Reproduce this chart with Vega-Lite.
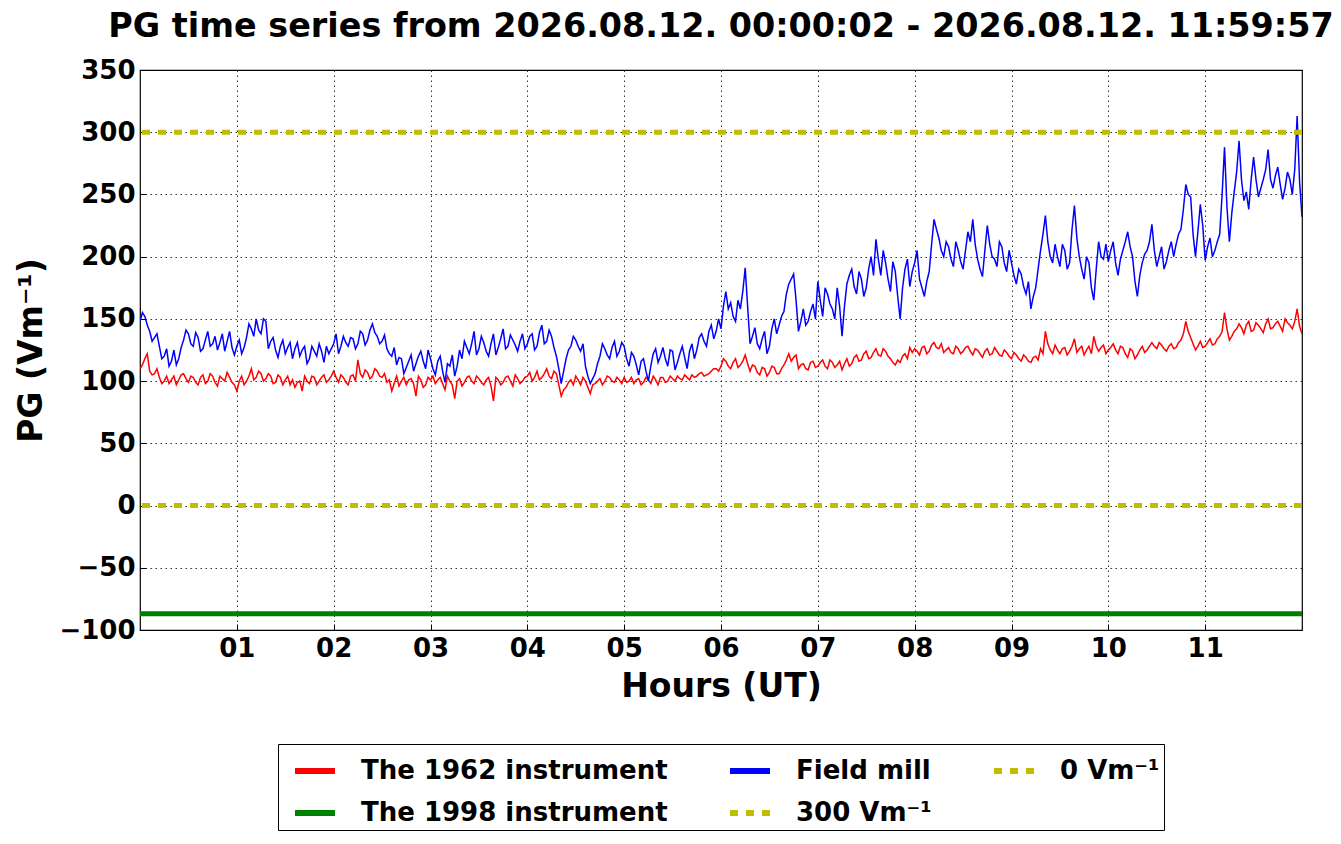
{
  "$schema": "https://vega.github.io/schema/vega-lite/v6.json",
  "width": 1162,
  "height": 560,
  "autosize": {"type": "none"},
  "padding": {"left": 140, "top": 70, "right": 39, "bottom": 214},
  "background": "white",
  "title": {
    "text": "PG time series from 2026.08.12. 00:00:02 - 2026.08.12. 11:59:57",
    "font": "DejaVu Sans",
    "fontSize": 33.4,
    "fontWeight": "bold",
    "color": "black",
    "anchor": "middle",
    "offset": 13
  },
  "config": {
    "view": {"stroke": "black", "strokeWidth": 1.2},
    "axis": {
      "domain": false,
      "labelFont": "DejaVu Sans",
      "labelFontSize": 26,
      "labelFontWeight": "bold",
      "labelColor": "black",
      "titleFont": "DejaVu Sans",
      "titleFontSize": 33,
      "titleFontWeight": "bold",
      "titleColor": "black",
      "grid": true,
      "gridColor": "black",
      "gridDash": [1.5, 3.5],
      "gridWidth": 0.8,
      "gridOpacity": 1,
      "tickColor": "black",
      "tickSize": -6,
      "tickWidth": 1
    }
  },
  "datasets": {
    "pg": [
      {"t": 0.00, "r": 110, "f": 148}, {"t": 0.05, "r": 118, "f": 152}, {"t": 0.10, "r": 108, "f": 140}, {"t": 0.15, "r": 106, "f": 135},
      {"t": 0.20, "r": 103, "f": 128}, {"t": 0.25, "r": 100, "f": 120}, {"t": 0.30, "r": 98, "f": 112}, {"t": 0.35, "r": 104, "f": 125},
      {"t": 0.40, "r": 101, "f": 118}, {"t": 0.45, "r": 106, "f": 133}, {"t": 0.50, "r": 99, "f": 138}, {"t": 0.55, "r": 103, "f": 128},
      {"t": 0.60, "r": 97, "f": 135}, {"t": 0.65, "r": 105, "f": 126}, {"t": 0.70, "r": 100, "f": 140}, {"t": 0.75, "r": 104, "f": 130},
      {"t": 0.80, "r": 96, "f": 125}, {"t": 0.85, "r": 102, "f": 138}, {"t": 0.90, "r": 107, "f": 132}, {"t": 0.95, "r": 99, "f": 127},
      {"t": 1.00, "r": 92, "f": 128}, {"t": 1.05, "r": 104, "f": 122}, {"t": 1.10, "r": 100, "f": 135}, {"t": 1.15, "r": 110, "f": 142},
      {"t": 1.20, "r": 103, "f": 150}, {"t": 1.25, "r": 106, "f": 138}, {"t": 1.30, "r": 102, "f": 148}, {"t": 1.35, "r": 104, "f": 132},
      {"t": 1.40, "r": 99, "f": 125}, {"t": 1.45, "r": 103, "f": 128}, {"t": 1.50, "r": 101, "f": 122}, {"t": 1.55, "r": 97, "f": 131},
      {"t": 1.60, "r": 95, "f": 126}, {"t": 1.65, "r": 100, "f": 120}, {"t": 1.70, "r": 104, "f": 128}, {"t": 1.75, "r": 98, "f": 118},
      {"t": 1.80, "r": 103, "f": 124}, {"t": 1.85, "r": 100, "f": 130}, {"t": 1.90, "r": 105, "f": 115}, {"t": 1.95, "r": 101, "f": 122},
      {"t": 2.00, "r": 108, "f": 130}, {"t": 2.05, "r": 99, "f": 122}, {"t": 2.10, "r": 103, "f": 136}, {"t": 2.15, "r": 97, "f": 128},
      {"t": 2.20, "r": 105, "f": 134}, {"t": 2.25, "r": 117, "f": 130}, {"t": 2.30, "r": 103, "f": 138}, {"t": 2.35, "r": 107, "f": 133},
      {"t": 2.40, "r": 104, "f": 146}, {"t": 2.45, "r": 108, "f": 136}, {"t": 2.50, "r": 103, "f": 132}, {"t": 2.55, "r": 99, "f": 126},
      {"t": 2.60, "r": 92, "f": 120}, {"t": 2.65, "r": 104, "f": 113}, {"t": 2.70, "r": 100, "f": 118}, {"t": 2.75, "r": 97, "f": 111},
      {"t": 2.80, "r": 102, "f": 121}, {"t": 2.85, "r": 88, "f": 114}, {"t": 2.90, "r": 101, "f": 124}, {"t": 2.95, "r": 97, "f": 110},
      {"t": 3.00, "r": 101, "f": 118}, {"t": 3.05, "r": 98, "f": 105}, {"t": 3.10, "r": 103, "f": 120}, {"t": 3.15, "r": 93, "f": 99},
      {"t": 3.20, "r": 100, "f": 112}, {"t": 3.25, "r": 86, "f": 104}, {"t": 3.30, "r": 102, "f": 125}, {"t": 3.35, "r": 99, "f": 132},
      {"t": 3.40, "r": 104, "f": 122}, {"t": 3.45, "r": 98, "f": 140}, {"t": 3.50, "r": 102, "f": 126}, {"t": 3.55, "r": 97, "f": 131},
      {"t": 3.60, "r": 103, "f": 120}, {"t": 3.65, "r": 84, "f": 138}, {"t": 3.70, "r": 101, "f": 127}, {"t": 3.75, "r": 99, "f": 142},
      {"t": 3.80, "r": 104, "f": 128}, {"t": 3.85, "r": 96, "f": 133}, {"t": 3.90, "r": 102, "f": 124}, {"t": 3.95, "r": 100, "f": 138},
      {"t": 4.00, "r": 104, "f": 130}, {"t": 4.05, "r": 100, "f": 138}, {"t": 4.10, "r": 108, "f": 128}, {"t": 4.15, "r": 103, "f": 145},
      {"t": 4.20, "r": 110, "f": 132}, {"t": 4.25, "r": 102, "f": 136}, {"t": 4.30, "r": 106, "f": 120}, {"t": 4.35, "r": 88, "f": 98},
      {"t": 4.40, "r": 95, "f": 118}, {"t": 4.45, "r": 101, "f": 128}, {"t": 4.50, "r": 104, "f": 133}, {"t": 4.55, "r": 97, "f": 124},
      {"t": 4.60, "r": 100, "f": 112}, {"t": 4.65, "r": 90, "f": 98}, {"t": 4.70, "r": 98, "f": 106}, {"t": 4.75, "r": 102, "f": 120},
      {"t": 4.80, "r": 100, "f": 126}, {"t": 4.85, "r": 103, "f": 118}, {"t": 4.90, "r": 99, "f": 132}, {"t": 4.95, "r": 101, "f": 124},
      {"t": 5.00, "r": 103, "f": 128}, {"t": 5.05, "r": 100, "f": 112}, {"t": 5.10, "r": 98, "f": 120}, {"t": 5.15, "r": 102, "f": 105},
      {"t": 5.20, "r": 99, "f": 118}, {"t": 5.25, "r": 101, "f": 100}, {"t": 5.30, "r": 104, "f": 122}, {"t": 5.35, "r": 97, "f": 115},
      {"t": 5.40, "r": 103, "f": 127}, {"t": 5.45, "r": 100, "f": 112}, {"t": 5.50, "r": 102, "f": 124}, {"t": 5.55, "r": 104, "f": 115},
      {"t": 5.60, "r": 101, "f": 128}, {"t": 5.65, "r": 103, "f": 110}, {"t": 5.70, "r": 105, "f": 130}, {"t": 5.75, "r": 104, "f": 125},
      {"t": 5.80, "r": 107, "f": 138}, {"t": 5.85, "r": 105, "f": 128}, {"t": 5.90, "r": 108, "f": 145}, {"t": 5.95, "r": 110, "f": 140},
      {"t": 6.00, "r": 112, "f": 142}, {"t": 6.05, "r": 116, "f": 172}, {"t": 6.10, "r": 110, "f": 163}, {"t": 6.15, "r": 118, "f": 148},
      {"t": 6.20, "r": 113, "f": 158}, {"t": 6.25, "r": 121, "f": 191}, {"t": 6.30, "r": 108, "f": 130}, {"t": 6.35, "r": 112, "f": 143},
      {"t": 6.40, "r": 105, "f": 126}, {"t": 6.45, "r": 110, "f": 140}, {"t": 6.50, "r": 107, "f": 128}, {"t": 6.55, "r": 111, "f": 150},
      {"t": 6.60, "r": 106, "f": 145}, {"t": 6.65, "r": 113, "f": 156}, {"t": 6.70, "r": 122, "f": 178}, {"t": 6.75, "r": 119, "f": 186},
      {"t": 6.80, "r": 110, "f": 140}, {"t": 6.85, "r": 114, "f": 158}, {"t": 6.90, "r": 109, "f": 148}, {"t": 6.95, "r": 116, "f": 162},
      {"t": 7.00, "r": 112, "f": 180}, {"t": 7.05, "r": 117, "f": 152}, {"t": 7.10, "r": 110, "f": 170}, {"t": 7.15, "r": 115, "f": 158},
      {"t": 7.20, "r": 113, "f": 175}, {"t": 7.25, "r": 109, "f": 136}, {"t": 7.30, "r": 118, "f": 178}, {"t": 7.35, "r": 114, "f": 190},
      {"t": 7.40, "r": 121, "f": 170}, {"t": 7.45, "r": 117, "f": 182}, {"t": 7.50, "r": 124, "f": 175}, {"t": 7.55, "r": 119, "f": 200},
      {"t": 7.60, "r": 126, "f": 214}, {"t": 7.65, "r": 120, "f": 185}, {"t": 7.70, "r": 124, "f": 195}, {"t": 7.75, "r": 118, "f": 172},
      {"t": 7.80, "r": 113, "f": 188}, {"t": 7.85, "r": 115, "f": 150}, {"t": 7.90, "r": 122, "f": 190}, {"t": 7.95, "r": 127, "f": 176},
      {"t": 8.00, "r": 126, "f": 195}, {"t": 8.05, "r": 121, "f": 182}, {"t": 8.10, "r": 128, "f": 168}, {"t": 8.15, "r": 124, "f": 188},
      {"t": 8.20, "r": 131, "f": 230}, {"t": 8.25, "r": 126, "f": 215}, {"t": 8.30, "r": 123, "f": 200}, {"t": 8.35, "r": 127, "f": 208},
      {"t": 8.40, "r": 122, "f": 192}, {"t": 8.45, "r": 126, "f": 205}, {"t": 8.50, "r": 124, "f": 190}, {"t": 8.55, "r": 128, "f": 220},
      {"t": 8.60, "r": 121, "f": 230}, {"t": 8.65, "r": 125, "f": 198}, {"t": 8.70, "r": 119, "f": 184}, {"t": 8.75, "r": 126, "f": 225},
      {"t": 8.80, "r": 122, "f": 200}, {"t": 8.85, "r": 124, "f": 192}, {"t": 8.90, "r": 120, "f": 208}, {"t": 8.95, "r": 123, "f": 188},
      {"t": 9.00, "r": 118, "f": 195}, {"t": 9.05, "r": 121, "f": 178}, {"t": 9.10, "r": 116, "f": 186}, {"t": 9.15, "r": 119, "f": 170},
      {"t": 9.20, "r": 115, "f": 158}, {"t": 9.25, "r": 120, "f": 175}, {"t": 9.30, "r": 126, "f": 205}, {"t": 9.35, "r": 140, "f": 233},
      {"t": 9.40, "r": 125, "f": 200}, {"t": 9.45, "r": 129, "f": 210}, {"t": 9.50, "r": 122, "f": 192}, {"t": 9.55, "r": 127, "f": 205},
      {"t": 9.60, "r": 124, "f": 195}, {"t": 9.65, "r": 134, "f": 241}, {"t": 9.70, "r": 126, "f": 200}, {"t": 9.75, "r": 121, "f": 182},
      {"t": 9.80, "r": 128, "f": 195}, {"t": 9.85, "r": 136, "f": 165}, {"t": 9.90, "r": 124, "f": 212}, {"t": 9.95, "r": 129, "f": 198},
      {"t": 10.00, "r": 125, "f": 196}, {"t": 10.05, "r": 130, "f": 212}, {"t": 10.10, "r": 122, "f": 185}, {"t": 10.15, "r": 127, "f": 205},
      {"t": 10.20, "r": 119, "f": 220}, {"t": 10.25, "r": 124, "f": 200}, {"t": 10.30, "r": 121, "f": 168}, {"t": 10.35, "r": 128, "f": 195},
      {"t": 10.40, "r": 125, "f": 205}, {"t": 10.45, "r": 131, "f": 226}, {"t": 10.50, "r": 126, "f": 192}, {"t": 10.55, "r": 129, "f": 208},
      {"t": 10.60, "r": 124, "f": 196}, {"t": 10.65, "r": 130, "f": 212}, {"t": 10.70, "r": 127, "f": 210}, {"t": 10.75, "r": 133, "f": 222},
      {"t": 10.80, "r": 148, "f": 258}, {"t": 10.85, "r": 135, "f": 248}, {"t": 10.90, "r": 125, "f": 200}, {"t": 10.95, "r": 132, "f": 242},
      {"t": 11.00, "r": 128, "f": 197}, {"t": 11.05, "r": 134, "f": 215}, {"t": 11.10, "r": 130, "f": 205}, {"t": 11.15, "r": 136, "f": 218},
      {"t": 11.20, "r": 155, "f": 288}, {"t": 11.25, "r": 133, "f": 212}, {"t": 11.30, "r": 140, "f": 252}, {"t": 11.35, "r": 146, "f": 293},
      {"t": 11.40, "r": 138, "f": 245}, {"t": 11.45, "r": 148, "f": 238}, {"t": 11.50, "r": 141, "f": 280}, {"t": 11.55, "r": 145, "f": 248},
      {"t": 11.60, "r": 139, "f": 262}, {"t": 11.65, "r": 150, "f": 286}, {"t": 11.70, "r": 143, "f": 255}, {"t": 11.75, "r": 148, "f": 272},
      {"t": 11.80, "r": 140, "f": 246}, {"t": 11.85, "r": 147, "f": 268}, {"t": 11.90, "r": 142, "f": 250}, {"t": 11.95, "r": 158, "f": 313},
      {"t": 12.00, "r": 138, "f": 232},
      {"t": 0.025, "r": 113, "f": 155}, {"t": 0.075, "r": 122, "f": 145}, {"t": 0.125, "r": 105, "f": 132}, {"t": 0.175, "r": 110, "f": 138},
      {"t": 0.225, "r": 98, "f": 118}, {"t": 0.275, "r": 104, "f": 126}, {"t": 0.325, "r": 101, "f": 116}, {"t": 0.375, "r": 97, "f": 113},
      {"t": 0.425, "r": 105, "f": 127}, {"t": 0.475, "r": 102, "f": 141}, {"t": 0.525, "r": 104, "f": 130}, {"t": 0.575, "r": 99, "f": 139},
      {"t": 0.625, "r": 103, "f": 124}, {"t": 0.675, "r": 98, "f": 133}, {"t": 0.725, "r": 106, "f": 128}, {"t": 0.775, "r": 99, "f": 136},
      {"t": 0.825, "r": 104, "f": 131}, {"t": 0.875, "r": 100, "f": 124}, {"t": 0.925, "r": 103, "f": 140}, {"t": 0.975, "r": 97, "f": 121},
      {"t": 1.025, "r": 100, "f": 133}, {"t": 1.075, "r": 97, "f": 127}, {"t": 1.125, "r": 104, "f": 146}, {"t": 1.175, "r": 101, "f": 136},
      {"t": 1.225, "r": 108, "f": 141}, {"t": 1.275, "r": 100, "f": 150}, {"t": 1.325, "r": 106, "f": 126}, {"t": 1.375, "r": 98, "f": 135},
      {"t": 1.425, "r": 105, "f": 119}, {"t": 1.475, "r": 97, "f": 133}, {"t": 1.525, "r": 104, "f": 127}, {"t": 1.575, "r": 101, "f": 118},
      {"t": 1.625, "r": 99, "f": 131}, {"t": 1.675, "r": 92, "f": 125}, {"t": 1.725, "r": 100, "f": 114}, {"t": 1.775, "r": 104, "f": 128},
      {"t": 1.825, "r": 97, "f": 120}, {"t": 1.875, "r": 103, "f": 124}, {"t": 1.925, "r": 99, "f": 128}, {"t": 1.975, "r": 104, "f": 126},
      {"t": 2.025, "r": 103, "f": 138}, {"t": 2.075, "r": 105, "f": 128}, {"t": 2.125, "r": 99, "f": 131}, {"t": 2.175, "r": 104, "f": 135},
      {"t": 2.225, "r": 100, "f": 126}, {"t": 2.275, "r": 106, "f": 140}, {"t": 2.325, "r": 109, "f": 129}, {"t": 2.375, "r": 102, "f": 141},
      {"t": 2.425, "r": 110, "f": 139}, {"t": 2.475, "r": 104, "f": 130}, {"t": 2.525, "r": 106, "f": 137}, {"t": 2.575, "r": 101, "f": 122},
      {"t": 2.625, "r": 98, "f": 127}, {"t": 2.675, "r": 96, "f": 119}, {"t": 2.725, "r": 103, "f": 106}, {"t": 2.775, "r": 101, "f": 116},
      {"t": 2.825, "r": 98, "f": 108}, {"t": 2.875, "r": 104, "f": 120}, {"t": 2.925, "r": 95, "f": 116}, {"t": 2.975, "r": 103, "f": 125},
      {"t": 3.025, "r": 104, "f": 110}, {"t": 3.075, "r": 101, "f": 116}, {"t": 3.125, "r": 98, "f": 108}, {"t": 3.175, "r": 104, "f": 114},
      {"t": 3.225, "r": 97, "f": 121}, {"t": 3.275, "r": 100, "f": 112}, {"t": 3.325, "r": 96, "f": 118}, {"t": 3.375, "r": 103, "f": 127},
      {"t": 3.425, "r": 100, "f": 130}, {"t": 3.475, "r": 104, "f": 121}, {"t": 3.525, "r": 99, "f": 136}, {"t": 3.575, "r": 101, "f": 124},
      {"t": 3.625, "r": 96, "f": 130}, {"t": 3.675, "r": 103, "f": 121}, {"t": 3.725, "r": 97, "f": 134}, {"t": 3.775, "r": 103, "f": 126},
      {"t": 3.825, "r": 100, "f": 137}, {"t": 3.875, "r": 105, "f": 129}, {"t": 3.925, "r": 98, "f": 132}, {"t": 3.975, "r": 103, "f": 126},
      {"t": 4.025, "r": 107, "f": 136}, {"t": 4.075, "r": 103, "f": 125}, {"t": 4.125, "r": 101, "f": 139}, {"t": 4.175, "r": 106, "f": 130},
      {"t": 4.225, "r": 104, "f": 141}, {"t": 4.275, "r": 108, "f": 127}, {"t": 4.325, "r": 97, "f": 110}, {"t": 4.375, "r": 93, "f": 108},
      {"t": 4.425, "r": 99, "f": 125}, {"t": 4.475, "r": 97, "f": 136}, {"t": 4.525, "r": 101, "f": 128}, {"t": 4.575, "r": 103, "f": 130},
      {"t": 4.625, "r": 95, "f": 104}, {"t": 4.675, "r": 97, "f": 102}, {"t": 4.725, "r": 100, "f": 114}, {"t": 4.775, "r": 97, "f": 130},
      {"t": 4.825, "r": 104, "f": 121}, {"t": 4.875, "r": 100, "f": 127}, {"t": 4.925, "r": 103, "f": 120}, {"t": 4.975, "r": 98, "f": 131},
      {"t": 5.025, "r": 99, "f": 118}, {"t": 5.075, "r": 103, "f": 123}, {"t": 5.125, "r": 101, "f": 113}, {"t": 5.175, "r": 97, "f": 116},
      {"t": 5.225, "r": 103, "f": 108}, {"t": 5.275, "r": 98, "f": 112}, {"t": 5.325, "r": 101, "f": 126}, {"t": 5.375, "r": 103, "f": 120},
      {"t": 5.425, "r": 99, "f": 118}, {"t": 5.475, "r": 104, "f": 125}, {"t": 5.525, "r": 100, "f": 109}, {"t": 5.575, "r": 102, "f": 122},
      {"t": 5.625, "r": 105, "f": 119}, {"t": 5.675, "r": 101, "f": 124}, {"t": 5.725, "r": 103, "f": 118}, {"t": 5.775, "r": 106, "f": 135},
      {"t": 5.825, "r": 104, "f": 132}, {"t": 5.875, "r": 106, "f": 140}, {"t": 5.925, "r": 110, "f": 134}, {"t": 5.975, "r": 108, "f": 150},
      {"t": 6.025, "r": 118, "f": 160}, {"t": 6.075, "r": 112, "f": 158}, {"t": 6.125, "r": 115, "f": 152}, {"t": 6.175, "r": 111, "f": 165},
      {"t": 6.225, "r": 116, "f": 172}, {"t": 6.275, "r": 114, "f": 160}, {"t": 6.325, "r": 113, "f": 136}, {"t": 6.375, "r": 107, "f": 130},
      {"t": 6.425, "r": 111, "f": 134}, {"t": 6.475, "r": 104, "f": 122}, {"t": 6.525, "r": 112, "f": 142}, {"t": 6.575, "r": 106, "f": 138},
      {"t": 6.625, "r": 110, "f": 152}, {"t": 6.675, "r": 117, "f": 170}, {"t": 6.725, "r": 116, "f": 182}, {"t": 6.775, "r": 121, "f": 165},
      {"t": 6.825, "r": 113, "f": 148}, {"t": 6.875, "r": 110, "f": 145}, {"t": 6.925, "r": 115, "f": 156}, {"t": 6.975, "r": 111, "f": 150},
      {"t": 7.025, "r": 115, "f": 165}, {"t": 7.075, "r": 112, "f": 175}, {"t": 7.125, "r": 117, "f": 162}, {"t": 7.175, "r": 111, "f": 150},
      {"t": 7.225, "r": 116, "f": 160}, {"t": 7.275, "r": 114, "f": 160}, {"t": 7.325, "r": 112, "f": 185}, {"t": 7.375, "r": 119, "f": 176},
      {"t": 7.425, "r": 116, "f": 188}, {"t": 7.475, "r": 122, "f": 168}, {"t": 7.525, "r": 118, "f": 190}, {"t": 7.575, "r": 123, "f": 185},
      {"t": 7.625, "r": 121, "f": 198}, {"t": 7.675, "r": 126, "f": 205}, {"t": 7.725, "r": 120, "f": 182}, {"t": 7.775, "r": 115, "f": 196},
      {"t": 7.825, "r": 117, "f": 168}, {"t": 7.875, "r": 120, "f": 175}, {"t": 7.925, "r": 118, "f": 198}, {"t": 7.975, "r": 123, "f": 188},
      {"t": 8.025, "r": 124, "f": 205}, {"t": 8.075, "r": 127, "f": 175}, {"t": 8.125, "r": 122, "f": 180}, {"t": 8.175, "r": 129, "f": 210},
      {"t": 8.225, "r": 127, "f": 222}, {"t": 8.275, "r": 130, "f": 205}, {"t": 8.325, "r": 125, "f": 212}, {"t": 8.375, "r": 123, "f": 198},
      {"t": 8.425, "r": 128, "f": 212}, {"t": 8.475, "r": 122, "f": 196}, {"t": 8.525, "r": 127, "f": 205}, {"t": 8.575, "r": 124, "f": 212},
      {"t": 8.625, "r": 126, "f": 210}, {"t": 8.675, "r": 122, "f": 190}, {"t": 8.725, "r": 124, "f": 205}, {"t": 8.775, "r": 121, "f": 210},
      {"t": 8.825, "r": 127, "f": 198}, {"t": 8.875, "r": 121, "f": 212}, {"t": 8.925, "r": 125, "f": 195}, {"t": 8.975, "r": 120, "f": 205},
      {"t": 9.025, "r": 123, "f": 185}, {"t": 9.075, "r": 118, "f": 190}, {"t": 9.125, "r": 121, "f": 176}, {"t": 9.175, "r": 116, "f": 180},
      {"t": 9.225, "r": 119, "f": 168}, {"t": 9.275, "r": 117, "f": 190}, {"t": 9.325, "r": 122, "f": 218}, {"t": 9.375, "r": 130, "f": 212},
      {"t": 9.425, "r": 122, "f": 195}, {"t": 9.475, "r": 125, "f": 200}, {"t": 9.525, "r": 126, "f": 210}, {"t": 9.575, "r": 121, "f": 190},
      {"t": 9.625, "r": 128, "f": 222}, {"t": 9.675, "r": 123, "f": 215}, {"t": 9.725, "r": 128, "f": 190}, {"t": 9.775, "r": 125, "f": 200},
      {"t": 9.825, "r": 122, "f": 175}, {"t": 9.875, "r": 128, "f": 190}, {"t": 9.925, "r": 127, "f": 200}, {"t": 9.975, "r": 122, "f": 210},
      {"t": 10.025, "r": 127, "f": 205}, {"t": 10.075, "r": 125, "f": 195}, {"t": 10.125, "r": 128, "f": 198}, {"t": 10.175, "r": 122, "f": 212},
      {"t": 10.225, "r": 126, "f": 208}, {"t": 10.275, "r": 118, "f": 180}, {"t": 10.325, "r": 125, "f": 185}, {"t": 10.375, "r": 123, "f": 202},
      {"t": 10.425, "r": 128, "f": 212}, {"t": 10.475, "r": 128, "f": 205}, {"t": 10.525, "r": 131, "f": 200}, {"t": 10.575, "r": 126, "f": 190},
      {"t": 10.625, "r": 128, "f": 205}, {"t": 10.675, "r": 126, "f": 200}, {"t": 10.725, "r": 131, "f": 218}, {"t": 10.775, "r": 138, "f": 238},
      {"t": 10.825, "r": 140, "f": 250}, {"t": 10.875, "r": 130, "f": 218}, {"t": 10.925, "r": 128, "f": 220}, {"t": 10.975, "r": 127, "f": 225},
      {"t": 11.025, "r": 131, "f": 208}, {"t": 11.075, "r": 129, "f": 200}, {"t": 11.125, "r": 134, "f": 212}, {"t": 11.175, "r": 140, "f": 250},
      {"t": 11.225, "r": 142, "f": 240}, {"t": 11.275, "r": 136, "f": 235}, {"t": 11.325, "r": 142, "f": 268}, {"t": 11.375, "r": 143, "f": 262},
      {"t": 11.425, "r": 145, "f": 252}, {"t": 11.475, "r": 140, "f": 262}, {"t": 11.525, "r": 147, "f": 262}, {"t": 11.575, "r": 142, "f": 255},
      {"t": 11.625, "r": 146, "f": 270}, {"t": 11.675, "r": 142, "f": 262}, {"t": 11.725, "r": 146, "f": 265}, {"t": 11.775, "r": 144, "f": 258},
      {"t": 11.825, "r": 150, "f": 255}, {"t": 11.875, "r": 145, "f": 262}, {"t": 11.925, "r": 148, "f": 270}, {"t": 11.975, "r": 144, "f": 260}
    ],
    "refs": [
      {"key": "g", "v": -87},
      {"key": "h", "v": 300},
      {"key": "z", "v": 0}
    ]
  },
  "layer": [
    {
      "data": {"name": "pg"},
      "transform": [{"fold": ["r", "f"], "as": ["key", "v"]}],
      "mark": {"type": "line", "strokeWidth": 1.5, "clip": true},
      "encoding": {
        "x": {
          "field": "t",
          "type": "quantitative",
          "scale": {"domain": [0, 12], "nice": false, "zero": false},
          "axis": {
            "title": "Hours (UT)",
            "values": [1, 2, 3, 4, 5, 6, 7, 8, 9, 10, 11],
            "labelExpr": "datum.value < 10 ? '0' + datum.value : '' + datum.value",
            "labelPadding": 11,
            "titlePadding": 9
          }
        },
        "y": {
          "field": "v",
          "type": "quantitative",
          "scale": {"domain": [-100, 350], "nice": false},
          "axis": {
            "title": "PG (Vm⁻¹)",
            "values": [-100, -50, 0, 50, 100, 150, 200, 250, 300, 350],
            "labelPadding": 11,
            "titlePadding": 10
          }
        },
        "color": {
          "field": "key",
          "type": "nominal",
          "scale": {
            "domain": ["r", "g", "f", "h", "z"],
            "range": ["#ff0000", "#008000", "#0000ff", "#bfbf00", "#bfbf00"]
          },
          "legend": {
            "title": null,
            "orient": "none",
            "legendX": 138,
            "legendY": 674,
            "columns": 3,
            "columnPadding": 49,
            "rowPadding": 6,
            "padding": 4,
            "strokeColor": "black",
            "fillColor": "white",
            "symbolType": "stroke",
            "symbolSize": 1600,
            "symbolStrokeWidth": 6,
            "symbolOffset": 10,
            "labelFont": "DejaVu Sans",
            "labelFontSize": 26,
            "labelFontWeight": "bold",
            "labelColor": "black",
            "labelLimit": 500,
            "labelOffset": 23,
            "labelExpr": "datum.value == 'r' ? 'The 1962 instrument' : datum.value == 'f' ? 'Field mill' : datum.value == 'z' ? '0 Vm⁻¹' : datum.value == 'g' ? 'The 1998 instrument' : '300 Vm⁻¹'"
          }
        },
        "strokeDash": {
          "field": "key",
          "type": "nominal",
          "scale": {
            "domain": ["r", "g", "f", "h", "z"],
            "range": [[1, 0], [1, 0], [1, 0], [8, 8], [8, 8]]
          },
          "legend": null
        }
      }
    },
    {
      "data": {"name": "refs"},
      "mark": {"type": "rule", "strokeWidth": 5},
      "encoding": {
        "y": {"field": "v", "type": "quantitative"},
        "color": {"field": "key", "type": "nominal"},
        "strokeDash": {"field": "key", "type": "nominal", "legend": null}
      }
    }
  ]
}
